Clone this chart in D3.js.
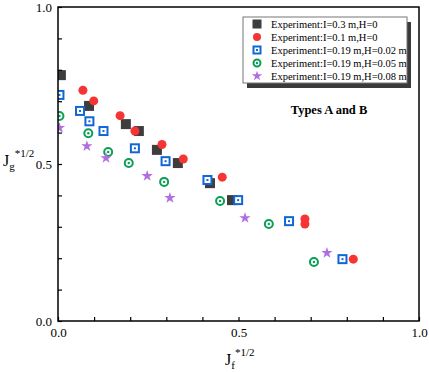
<!DOCTYPE html>
<html>
<head>
<meta charset="utf-8">
<script src="https://cdn.jsdelivr.net/npm/d3@7"></script>
<style>
  body { margin: 0; background: #fff; }
  svg { display: block; font-family: "Liberation Serif", "Times New Roman", serif; }
</style>
</head>
<body>
<svg id="chart"></svg>
<script>
const width = 429;
const height = 372;
const margin = { top: 7, right: 10, bottom: 51, left: 58 };

const seriesNames = [
  "Experiment:I=0.3 m,H=0",
  "Experiment:I=0.1 m,H=0",
  "Experiment:I=0.19 m,H=0.02 m",
  "Experiment:I=0.19 m,H=0.05 m",
  "Experiment:I=0.19 m,H=0.08 m"
];

// [Jf*1/2, Jg*1/2]
const i03h0 = [
  [0.008, 0.783], [0.086, 0.685], [0.188, 0.627], [0.224, 0.605],
  [0.274, 0.545], [0.332, 0.503], [0.421, 0.439], [0.482, 0.385]
];
const i01h0 = [
  [0.069, 0.735], [0.099, 0.701], [0.172, 0.654], [0.213, 0.605],
  [0.288, 0.562], [0.347, 0.516], [0.455, 0.458], [0.684, 0.325],
  [0.684, 0.309], [0.818, 0.197]
];
const i019h002 = [
  [0.004, 0.720], [0.061, 0.669], [0.087, 0.636], [0.126, 0.605],
  [0.213, 0.550], [0.298, 0.509], [0.414, 0.449], [0.499, 0.385],
  [0.640, 0.318], [0.788, 0.197]
];
const i019h005 = [
  [0.004, 0.653], [0.084, 0.598], [0.139, 0.538], [0.196, 0.503],
  [0.294, 0.443], [0.449, 0.382], [0.584, 0.309], [0.709, 0.188]
];
const i019h008 = [
  [0.004, 0.615], [0.080, 0.557], [0.133, 0.519], [0.247, 0.462],
  [0.310, 0.392], [0.518, 0.328], [0.745, 0.217]
];

const xTicks = [0, 0.1, 0.2, 0.3, 0.4, 0.5, 0.6, 0.7, 0.8, 0.9, 1.0];
const yTicks = [0, 0.1, 0.2, 0.3, 0.4, 0.5, 0.6, 0.7, 0.8, 0.9, 1.0];
const labelled = [0, 0.5, 1.0];

const allSeries = [i03h0, i01h0, i019h002, i019h005, i019h008];
const styles = [
  { type: "fsquare", color: "#3d3d3d" },
  { type: "fcircle", color: "#f73434" },
  { type: "osquare", color: "#1166d6" },
  { type: "ocircle", color: "#0b9e55" },
  { type: "star", color: "#b06fe0" }
];

const svg = d3.select("#chart").attr("width", width).attr("height", height);

const x = d3.scaleLinear().domain([0, 1]).range([margin.left, width - margin.right]);
const y = d3.scaleLinear().domain([0, 1]).range([height - margin.bottom, margin.top]);

svg.append("clipPath").attr("id", "clip")
  .append("rect")
  .attr("x", x(0)).attr("y", y(1))
  .attr("width", x(1) - x(0)).attr("height", y(0) - y(1));

function drawMarker(g, type, color, s) {
  if (type === "fsquare") {
    g.append("rect").attr("x", -s / 2).attr("y", -s / 2).attr("width", s).attr("height", s).attr("fill", color);
  } else if (type === "fcircle") {
    g.append("circle").attr("r", s / 2 - 0.5).attr("fill", color);
  } else if (type === "osquare") {
    g.append("rect").attr("x", -s / 2 + 1).attr("y", -s / 2 + 1).attr("width", s - 2).attr("height", s - 2)
      .attr("fill", "#fff").attr("stroke", color).attr("stroke-width", 2);
    g.append("rect").attr("x", -1).attr("y", -1).attr("width", 2).attr("height", 2).attr("fill", color);
  } else if (type === "ocircle") {
    g.append("circle").attr("r", s / 2 - 1).attr("fill", "#fff").attr("stroke", color).attr("stroke-width", 2);
    g.append("circle").attr("r", 1.2).attr("fill", color);
  } else if (type === "star") {
    g.append("path").attr("d", d3.symbol(d3.symbolStar, s * s * 0.4)()).attr("fill", color);
  }
}

const plot = svg.append("g").attr("clip-path", "url(#clip)");
allSeries.forEach((data, i) => {
  const st = styles[i];
  plot.append("g").selectAll("g")
    .data(data)
    .enter()
    .append("g")
    .attr("transform", d => `translate(${x(d[0])},${y(d[1])})`)
    .each(function () { drawMarker(d3.select(this), st.type, st.color, 10); });
});

// axes
const xAxis = d3.axisBottom(x).tickValues(xTicks).tickSizeInner(-4).tickSizeOuter(0)
  .tickFormat(d => labelled.includes(d) ? d3.format(".1f")(d) : "");
const yAxis = d3.axisLeft(y).tickValues(yTicks).tickSizeInner(-4).tickSizeOuter(0)
  .tickFormat(d => labelled.includes(d) ? d3.format(".1f")(d) : "");

const gx = svg.append("g").attr("transform", `translate(0,${y(0)})`).call(xAxis);
const gy = svg.append("g").attr("transform", `translate(${x(0)},0)`).call(yAxis);
[gx, gy].forEach(g => {
  g.select(".domain").remove();
  g.selectAll("line").attr("stroke", "#000").attr("stroke-width", 1.2);
  g.selectAll("text").attr("font-family", "Liberation Serif").attr("font-size", 13).attr("fill", "#000");
});
gx.selectAll("text").attr("y", 7);
gy.selectAll("text").attr("x", -6);

svg.append("rect")
  .attr("x", x(0)).attr("y", y(1))
  .attr("width", x(1) - x(0)).attr("height", y(0) - y(1))
  .attr("fill", "none").attr("stroke", "#000").attr("stroke-width", 1.5);

// axis titles
const yt = svg.append("text").attr("x", 3).attr("y", 166).attr("font-size", 16);
yt.append("tspan").text("J");
yt.append("tspan").attr("font-size", 11).attr("dy", 4).text("g");
yt.append("tspan").attr("font-size", 11).attr("dy", -13).text("*1/2");

const xt = svg.append("text").attr("x", 225).attr("y", 365).attr("font-size", 16);
xt.append("tspan").text("J");
xt.append("tspan").attr("font-size", 11).attr("dy", 4).text("f");
xt.append("tspan").attr("font-size", 11).attr("dy", -13).text("*1/2");

// legend
const legend = svg.append("g").attr("id", "legend");
legend.append("rect").attr("x", 247).attr("y", 22).attr("width", 164).attr("height", 66).attr("fill", "#3a3a3a");
legend.append("rect").attr("x", 243).attr("y", 17).attr("width", 164).attr("height", 66)
  .attr("fill", "#fff").attr("stroke", "#777").attr("stroke-width", 1);
seriesNames.forEach((name, i) => {
  const ly = 24 + i * 13;
  const g = legend.append("g").attr("transform", `translate(257,${ly})`);
  drawMarker(g, styles[i].type, styles[i].color, 9);
  legend.append("text").attr("x", 271).attr("y", ly + 4).attr("font-size", 10.5).text(name);
});

svg.append("text")
  .attr("x", 329).attr("y", 114)
  .attr("text-anchor", "middle")
  .attr("font-weight", "bold")
  .attr("font-size", 12.5)
  .text("Types A and B");
</script>
</body>
</html>
